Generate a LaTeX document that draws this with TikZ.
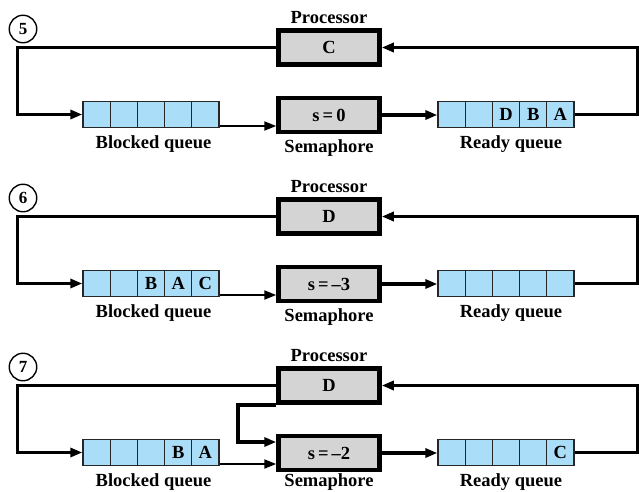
\documentclass[tikz,border=0pt]{standalone}
\usepackage{fontspec}
\setmainfont{Liberation Serif}
\usetikzlibrary{arrows.meta,calc}
\definecolor{qblue}{RGB}{170,222,248}
\definecolor{ggray}{RGB}{212,212,212}
\newcommand\myqueue[8]{%
  \foreach \i/\t in {1/#4,2/#5,3/#6,4/#7,5/#8}{%
    \node[cell] (#1\i) at ({#2+13.6+27.2*(\i-1)},#3) {\t};}}
\begin{document}
\begin{tikzpicture}[x=1pt,y=-1pt,
  lab/.style={font=\fontsize{18.5}{18.5}\selectfont\bfseries, anchor=base, inner sep=0pt},
  cell/.style={draw=black!85, line width=1.3pt, fill=qblue, minimum width=27.2pt,
    minimum height=26.5pt, inner sep=0pt, font=\fontsize{18.5}{18.5}\selectfont\bfseries},
  gbox/.style={draw=black, line width=4.5pt, fill=ggray, minimum width=101pt,
    minimum height=34pt, inner sep=0pt, font=\fontsize{18.5}{18.5}\selectfont\bfseries},
  num/.style={circle, draw, line width=1.4pt, minimum size=27.5pt, inner sep=0pt,
    font=\fontsize{17}{17}\selectfont\bfseries},
  tip/.style={-{Triangle[length=12pt,width=9pt]}},
  loopline/.style={line width=3pt},
  thinline/.style={line width=2pt},
  heavyline/.style={line width=4pt},
]
\useasboundingbox (0,0) rectangle (639,491);

% ---------- panel 5 ----------
\begin{scope}[shift={(0,0)}]
\node[num] (n5) at (23,29) {5};
\node[gbox] (p5) at (329,47.5) {C};
\node[lab] (pl5) at (329,23) {Processor};
\node[gbox] (s5) at (329,115) {s\,=\,0};
\node[lab] (sl5) at (329,152) {Semaphore};
\myqueue{b5}{83}{114.5}{}{}{}{}{}
\node[lab] (bl5) at (153.5,148) {Blocked queue};
\myqueue{r5}{438}{114.5}{}{}{D}{B}{A}
\node[lab] (rl5) at (511,148) {Ready queue};
\coordinate (L5) at (17,0);
\coordinate (R5) at (637,0);
\draw[loopline,tip] (p5.west) -- (p5.west -| L5) |- (b51.west);
\draw[thinline,tip] ([yshift=-11.5pt]b55.east) coordinate (bx5) -- (bx5 -| s5.west);
\draw[heavyline,tip] (s5.east) -- (s5.east -| r51.west);
\draw[loopline,tip] (r55.east) -- (r55.east -| R5) |- (p5.east);
\end{scope}

% ---------- panel 6 ----------
\begin{scope}[shift={(0,169)}]
\node[num] (n6) at (23,29) {6};
\node[gbox] (p6) at (329,47.5) {D};
\node[lab] (pl6) at (329,23) {Processor};
\node[gbox] (s6) at (329,115) {s\,=\,–3};
\node[lab] (sl6) at (329,152) {Semaphore};
\myqueue{b6}{83}{114.5}{}{}{B}{A}{C}
\node[lab] (bl6) at (153.5,148) {Blocked queue};
\myqueue{r6}{438}{114.5}{}{}{}{}{}
\node[lab] (rl6) at (511,148) {Ready queue};
\coordinate (L6) at (17,0);
\coordinate (R6) at (637,0);
\draw[loopline,tip] (p6.west) -- (p6.west -| L6) |- (b61.west);
\draw[thinline,tip] ([yshift=-11.5pt]b65.east) coordinate (bx6) -- (bx6 -| s6.west);
\draw[heavyline,tip] (s6.east) -- (s6.east -| r61.west);
\draw[loopline,tip] (r65.east) -- (r65.east -| R6) |- (p6.east);
\end{scope}

% ---------- panel 7 ----------
\begin{scope}[shift={(0,338)}]
\node[num] (n7) at (23,29) {7};
\node[gbox] (p7) at (329,47.5) {D};
\node[lab] (pl7) at (329,23) {Processor};
\node[gbox] (s7) at (329,115) {s\,=\,–2};
\node[lab] (sl7) at (329,148.5) {Semaphore};
\myqueue{b7}{83}{114.5}{}{}{}{B}{A}
\node[lab] (bl7) at (153.5,148) {Blocked queue};
\myqueue{r7}{438}{114.5}{}{}{}{}{C}
\node[lab] (rl7) at (511,148) {Ready queue};
\coordinate (L7) at (17,0);
\coordinate (R7) at (637,0);
\coordinate (M7) at (238,0);
\draw[loopline,tip] (p7.west) -- (p7.west -| L7) |- (b71.west);
\draw[heavyline,tip] (p7.south west) -- (p7.south west -| M7) |- ([yshift=11pt]s7.west);
\draw[thinline,tip] ([yshift=-11.5pt]b75.east) coordinate (bx7) -- (bx7 -| s7.west);
\draw[heavyline,tip] (s7.east) -- (s7.east -| r71.west);
\draw[loopline,tip] (r75.east) -- (r75.east -| R7) |- (p7.east);
\end{scope}
\end{tikzpicture}
\end{document}
